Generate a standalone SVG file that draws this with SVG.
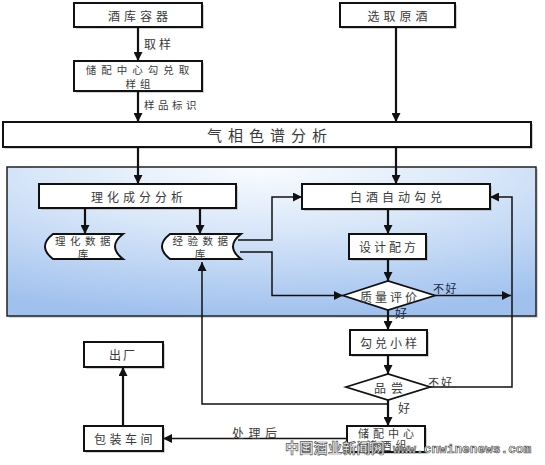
<svg xmlns="http://www.w3.org/2000/svg" width="545" height="465" viewBox="0 0 545 465">
<defs>
<radialGradient id="pg" cx="0.48" cy="0" r="1">
<stop offset="0" stop-color="#fafcff"/>
<stop offset="0.42" stop-color="#d9e7f9"/>
<stop offset="1" stop-color="#a0c1ee"/>
</radialGradient>
<marker id="ah" viewBox="0 0 10 10" refX="10" refY="5" markerWidth="9" markerHeight="9" markerUnits="userSpaceOnUse" orient="auto">
<path d="M0,0 L10,5 L0,10 z" fill="#111"/>
</marker>
<style>
.box{fill:#fff;stroke:#111;stroke-width:2}
.sh{fill:#9a9a9a;opacity:.45}
.t{font-family:"Noto Sans CJK SC","Liberation Sans",sans-serif;font-size:12px;fill:#3a3a3a;letter-spacing:4px;text-anchor:middle;dominant-baseline:central}
.s{font-size:11px}
.xs{font-size:10.5px}
.lbl{font-family:"Noto Sans CJK SC","Liberation Sans",sans-serif;font-size:12px;fill:#3a3a3a;letter-spacing:3px;dominant-baseline:central}
.c{fill:none;stroke:#111;stroke-width:2.2}
.n{fill:none;stroke:#111;stroke-width:1.5}
.wm{font-weight:bold;fill:#fff;stroke:#555;stroke-width:0.7}
</style>
</defs>
<rect width="545" height="465" fill="#fff"/>

<g id="panel">
<rect x="9" y="169" width="529" height="149" fill="#999" opacity=".4"/>
<rect x="7" y="167" width="529" height="149" fill="url(#pg)" stroke="#222" stroke-width="1.5"/>
</g>

<g id="n-jiuku">
<rect class="sh" x="76" y="5" width="128" height="24"/>
<rect class="box" x="74" y="3" width="128" height="24"/>
<text class="t" x="140" y="15">酒库容器</text>
</g>
<g id="n-xuanqu">
<rect class="sh" x="342" y="5" width="115" height="24"/>
<rect class="box" x="340" y="3" width="115" height="24"/>
<text class="t" x="399.5" y="15">选取原酒</text>
</g>
<g id="n-quyang">
<rect class="sh" x="76" y="63" width="128" height="30"/>
<rect class="box" x="74" y="61" width="128" height="30"/>
<text class="t xs" x="140" y="69" style="letter-spacing:5px">储配中心勾兑取</text>
<text class="t xs" x="140" y="83">样组</text>
</g>
<g id="n-qixiang">
<rect class="sh" x="5" y="124" width="528" height="25"/>
<rect class="box" x="3" y="122" width="528" height="25" stroke-width="1.6"/>
<text class="t" x="270" y="134.5" style="font-size:15px;letter-spacing:6px">气相色谱分析</text>
</g>
<g id="n-lihua">
<rect class="sh" x="41" y="186" width="197" height="24"/>
<rect class="box" x="39" y="184" width="197" height="24"/>
<text class="t" x="139" y="196">理化成分分析</text>
</g>
<g id="n-baijiu">
<rect class="sh" x="304" y="186" width="188" height="25"/>
<rect class="box" x="302" y="184" width="188" height="25"/>
<text class="t" x="398" y="196.5">白酒自动勾兑</text>
</g>
<g id="n-lihuadb">
<path class="box" d="M53,234 L123,234 Q107,246.5 123,259 L53,259 Q37,246.5 53,234 Z"/>
<text class="t xs" x="85" y="240" style="letter-spacing:4.5px">理化数据</text>
<text class="t xs" x="85" y="253">库</text>
</g>
<g id="n-jingyandb">
<path class="box" d="M170,234 L241,234 Q225,246.5 241,259 L170,259 Q154,246.5 170,234 Z"/>
<text class="t xs" x="202.5" y="240" style="letter-spacing:4.5px">经验数据</text>
<text class="t xs" x="202" y="253">库</text>
</g>
<g id="n-sheji">
<rect class="sh" x="351" y="236" width="77" height="25"/>
<rect class="box" x="349" y="234" width="77" height="25"/>
<text class="t" x="389" y="246.5" style="letter-spacing:3px">设计配方</text>
</g>
<g id="n-zhiliang">
<path d="M343,295.5 L388,281 L435,295.5 L388,310 Z" fill="#fff" stroke="#111" stroke-width="1.8"/>
<text class="t" x="390" y="296" style="letter-spacing:3px">质量评价</text>
</g>
<g id="n-goudui">
<rect class="sh" x="352" y="332" width="77" height="25"/>
<rect class="box" x="350" y="330" width="77" height="25"/>
<text class="t" x="390" y="342.5" style="letter-spacing:3px">勾兑小样</text>
</g>
<g id="n-pinchang">
<path d="M346,387 L388,374 L430,387 L388,400 Z" fill="#fff" stroke="#111" stroke-width="1.8"/>
<text class="t" x="391" y="387" style="letter-spacing:5px">品尝</text>
</g>
<g id="n-chuchang">
<rect class="sh" x="86" y="344" width="79" height="25"/>
<rect class="box" x="84" y="342" width="79" height="25"/>
<text class="t" x="123" y="354.5" style="letter-spacing:2px">出厂</text>
</g>
<g id="n-baozhuang">
<rect class="sh" x="86" y="428" width="79" height="25"/>
<rect class="box" x="84" y="426" width="79" height="25"/>
<text class="t" x="125" y="438.5" style="letter-spacing:3.5px">包装车间</text>
</g>
<g id="n-chupei">
<rect class="sh" x="349" y="428" width="78" height="26"/>
<rect class="box" x="347" y="426" width="78" height="26"/>
<text class="t s" x="388" y="432.5" style="letter-spacing:4px">储配中心</text>
<text class="t s" x="388" y="445" style="letter-spacing:4px">储酒组</text>
</g>

<g id="connectors">
<path class="c" d="M138,27 V61" marker-end="url(#ah)"/>
<path class="c" d="M138,91 V122" marker-end="url(#ah)"/>
<path class="c" d="M396,27 V122" marker-end="url(#ah)"/>
<path class="c" d="M138,147 V184" marker-end="url(#ah)"/>
<path class="c" d="M396,147 V184" marker-end="url(#ah)"/>
<path class="c" d="M85,208 V234" marker-end="url(#ah)"/>
<path class="c" d="M200,208 V234" marker-end="url(#ah)"/>
<path class="n" d="M238,240 H272 V197 H302" marker-end="url(#ah)"/>
<path class="n" d="M240,252 H272 V295.5 H343" marker-end="url(#ah)"/>
<path class="c" d="M388,209 V234" marker-end="url(#ah)"/>
<path class="c" d="M388,259 V281" marker-end="url(#ah)"/>
<path class="n" d="M435,295.5 H511" marker-end="url(#ah)"/>
<path class="c" d="M388,310 V330" marker-end="url(#ah)"/>
<path class="c" d="M388,355 V374" marker-end="url(#ah)"/>
<path class="n" d="M430,387 H512 V197 H490" marker-end="url(#ah)"/>
<path class="c" d="M388,400 V426" marker-end="url(#ah)"/>
<path class="n" d="M388,404 H202 V262" marker-end="url(#ah)"/>
<path class="n" d="M347,438.5 H163" marker-end="url(#ah)"/>
<path class="c" d="M123,426 V367" marker-end="url(#ah)"/>
<text class="lbl" x="144" y="43">取样</text>
<text class="lbl" x="144" y="104" style="font-size:10.5px;letter-spacing:3.5px">样品标识</text>
<text class="lbl" x="433" y="288" style="font-size:11px;letter-spacing:1.5px;fill:#1c2a44">不好</text>
<text class="lbl" x="395" y="312" style="fill:#1c2a44">好</text>
<text class="lbl" x="428" y="382" style="font-size:11px;letter-spacing:2px">不好</text>
<text class="lbl" x="398" y="407">好</text>
<text class="lbl" x="232" y="432" style="letter-spacing:4.5px">处理后</text>
</g>

<g id="watermark">
<text class="wm" x="285" y="453" style="font-family:'Noto Sans CJK SC',sans-serif;font-size:14px;letter-spacing:0.3px">中国酒业新闻网</text>
<text class="wm" x="393" y="453" style="font-family:'Liberation Mono',monospace;font-size:12.8px">www.cnwinenews.com</text>
</g>
</svg>
